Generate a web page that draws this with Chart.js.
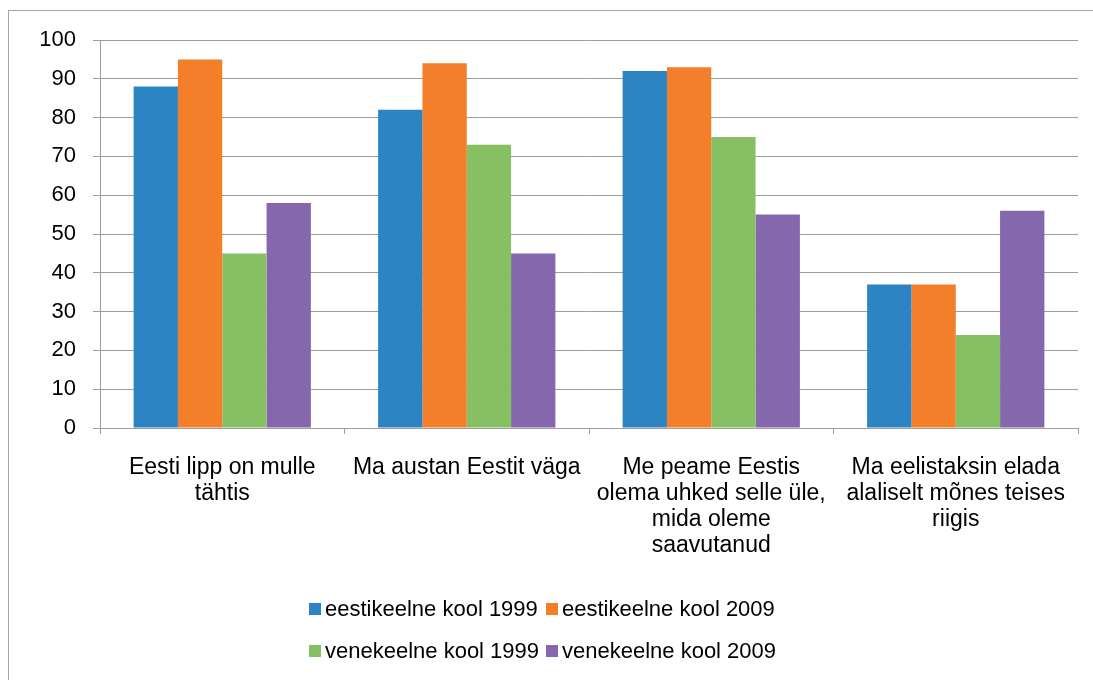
<!DOCTYPE html>
<html>
<head>
<meta charset="utf-8">
<script src="https://cdn.jsdelivr.net/npm/chart.js@4"></script>
<style>
  html, body { margin: 0; padding: 0; background: #fff; overflow: hidden; }
  #wrap { position: relative; width: 1093px; height: 680px; overflow: hidden; }
  #frame { position: absolute; left: 8px; top: 10px; width: 1200px; height: 800px; border: 1px solid #a6a6a6; }
  #chart { position: absolute; left: 0; top: 0; }
  #legend {
    position: absolute; left: 309px; top: 596px;
    display: grid; grid-template-columns: 237px auto; row-gap: 16px;
    font: 22px "Liberation Sans", Arial, sans-serif; line-height: 26px; color: #000;
  }
  #legend .item { display: flex; align-items: center; white-space: nowrap; }
  #legend .box { width: 12px; height: 12px; margin-right: 4px; }
</style>
</head>
<body>
<div id="wrap">
  <div id="frame"></div>
  <canvas id="chart" width="1093" height="680"></canvas>
  <div id="legend"></div>
</div>
<script>
const categories = [
  ["Eesti lipp on mulle", "tähtis"],
  ["Ma austan Eestit väga"],
  ["Me peame Eestis", "olema uhked selle üle,", "mida oleme", "saavutanud"],
  ["Ma eelistaksin elada", "alaliselt mõnes teises", "riigis"]
];
const seriesNames = [
  "eestikeelne kool 1999",
  "eestikeelne kool 2009",
  "venekeelne kool 1999",
  "venekeelne kool 2009"
];
const eesti1999 = [88, 82, 92, 37];
const eesti2009 = [95, 94, 93, 37];
const vene1999 = [45, 73, 75, 24];
const vene2009 = [58, 45, 55, 56];
const seriesColors = ["#2c84c3", "#f47f2a", "#86c063", "#8567ad"];

const gridColor = "#9d9d9d";
const family = '"Liberation Sans", Arial, sans-serif';

const values = [eesti1999, eesti2009, vene1999, vene2009];
const datasets = values.map((data, i) => ({
  label: seriesNames[i],
  data,
  backgroundColor: seriesColors[i],
  borderWidth: 0,
  categoryPercentage: 0.725,
  barPercentage: 1
}));

const chart = new Chart(document.getElementById("chart"), {
  type: "bar",
  data: { labels: categories, datasets },
  options: {
    responsive: false,
    animation: false,
    devicePixelRatio: 1,
    layout: { padding: { top: 40, right: 15, left: 0, bottom: 0 } },
    plugins: { legend: { display: false }, tooltip: { enabled: false } },
    scales: {
      x: {
        grid: { offset: true, drawOnChartArea: false, color: gridColor, tickLength: 6 },
        border: { color: gridColor },
        ticks: {
          font: { family, size: 23, lineHeight: "26px" },
          color: "#000", padding: 21, maxRotation: 0, autoSkip: false
        },
        afterFit: (scale) => { scale.height = 252; }
      },
      y: {
        min: 0,
        max: 100,
        grid: { color: gridColor, tickLength: 7 },
        border: { color: gridColor },
        ticks: { stepSize: 10, font: { family, size: 22 }, color: "#000", padding: 17 },
        afterFit: (scale) => { scale.width = 100; }
      }
    }
  }
});

// legend laid out in two rows below the plot
const legend = document.getElementById("legend");
chart.data.datasets.forEach((ds) => {
  const item = document.createElement("div");
  item.className = "item";
  item.innerHTML = `<span class="box" style="background:${ds.backgroundColor}"></span><span>${ds.label}</span>`;
  legend.appendChild(item);
});
</script>
</body>
</html>
